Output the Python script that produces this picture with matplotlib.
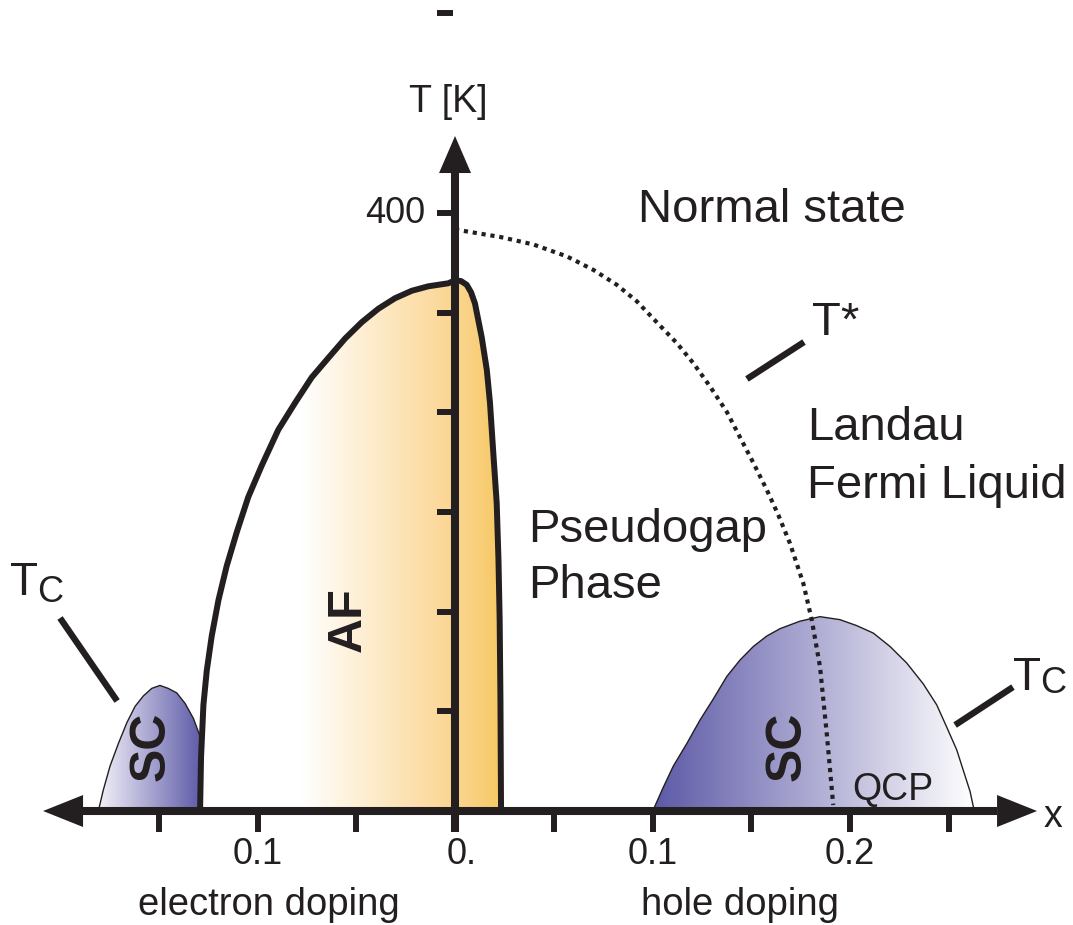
import numpy as np
import matplotlib.pyplot as plt
from matplotlib.patches import Polygon
from matplotlib.colors import LinearSegmentedColormap

# doping x (negative = electron doping) and temperature T [K]

# AF dome: left boundary up to the peak, right boundary down again
af_left_x = [-0.1291, -0.1286, -0.1274, -0.1257, -0.1232, -0.1198, -0.1156, -0.1104,
             -0.1047, -0.0979, -0.0895, -0.0810, -0.0726, -0.0642, -0.0557, -0.0472,
             -0.0388, -0.0304, -0.0219, -0.0135, -0.0034]
af_left_T = [0, 36, 71, 94, 117, 141, 164, 187, 210, 231, 255, 273, 290, 303, 316, 327,
             336, 343, 348, 351, 353]
af_right_x = [0.0, 0.0030, 0.0059, 0.0081, 0.0101, 0.0135, 0.0161, 0.0177, 0.0194,
              0.0211, 0.0220, 0.0226, 0.0230, 0.0233]
af_right_T = [355, 354.5, 352, 347, 339.5, 317, 295, 273, 239, 206, 168, 128, 74, 0]

# superconducting dome, electron doped side
sc_e_x = [-0.1806, -0.1781, -0.1747, -0.1705, -0.1662, -0.1620, -0.1578, -0.1536,
          -0.1494, -0.1452, -0.1409, -0.1367, -0.1325, -0.1291, -0.1280, -0.1291]
sc_e_T = [0, 14, 30, 45, 59, 70, 77, 82, 84, 82, 79, 72, 62, 50, 25, 0]

# superconducting dome, hole doped side
sc_h_x = [0.1001, 0.1055, 0.1105, 0.1173, 0.1241, 0.1308, 0.1376, 0.1443, 0.1510,
          0.1578, 0.1646, 0.1747, 0.1848, 0.1949, 0.2034, 0.2118, 0.2203, 0.2287,
          0.2371, 0.2439, 0.2490, 0.2540, 0.2574, 0.2608, 0.2629]
sc_h_T = [0, 16, 30, 45, 61, 75, 90, 101, 110, 117, 122, 127, 130, 128, 124, 119,
          110, 99, 85, 71, 56, 41, 27, 13, 0]

# pseudogap crossover T*
tstar_x = [0.0, 0.0228, 0.0396, 0.0566, 0.0700, 0.0819, 0.0920, 0.1021, 0.1123,
           0.1207, 0.1291, 0.1376, 0.1443, 0.1510, 0.1578, 0.1637, 0.1696, 0.1764,
           0.1806, 0.1848, 0.1882, 0.1915]
tstar_T = [389, 384, 379, 371, 362, 352, 341, 327, 313, 299.5, 284, 267, 250, 233,
           215, 198, 179, 152, 128, 96.5, 52, 4]

x_ticks = [-0.15, -0.10, -0.05, 0.0, 0.05, 0.10, 0.15, 0.20, 0.25]
x_labels = {-0.10: '0.1', 0.0: '0.', 0.10: '0.1', 0.20: '0.2'}
T_ticks = [67, 133, 200, 267, 333, 400]
T_labels = {400: '400'}

ink = '#231F20'
plt.rcParams['font.family'] = ['Liberation Sans', 'DejaVu Sans']

W, H = 1073, 925
fig = plt.figure(figsize=(W / 100, H / 100), dpi=100)
ax = fig.add_axes([0, 0, 1, 1])
xmin, xmax = -0.2304, 0.3129
Tmin, Tmax = -76.25, 542.5
ax.set_xlim(xmin, xmax)
ax.set_ylim(Tmin, Tmax)
ax.axis('off')
px_x = (xmax - xmin) / W   # one pixel in x units
px_T = (Tmax - Tmin) / H   # one pixel in T units


def gradient_fill(xs, Ts, stops):
    poly = Polygon(np.column_stack([xs, Ts]), closed=True, fc='none', ec='none')
    ax.add_patch(poly)
    cmap = LinearSegmentedColormap.from_list('g', stops)
    img = ax.imshow(np.linspace(0, 1, 512)[None, :], cmap=cmap, aspect='auto',
                    extent=(min(xs), max(xs), min(Ts), max(Ts)), origin='lower',
                    interpolation='bilinear', zorder=1)
    img.set_clip_path(poly)


# fills
gradient_fill(af_left_x + [0.0, 0.0], af_left_T + [355, 0],
              [(0, 'white'), (0.4, 'white'), (1, '#FBD590')])
gradient_fill([0.0] + af_right_x, [0] + af_right_T, ['#FAD692', '#F7C862'])
gradient_fill(sc_e_x, sc_e_T, ['#F3F2F9', '#5E5AA8'])
gradient_fill(sc_h_x, sc_h_T, ['#5D59A7', '#FFFFFF'])

# outlines
ax.plot(sc_e_x, sc_e_T, color=ink, lw=1.0, zorder=3)
ax.plot(sc_h_x, sc_h_T, color=ink, lw=1.0, zorder=3)
ax.plot(af_left_x + af_right_x, af_left_T + af_right_T, color=ink, lw=4.3,
        solid_joinstyle='round', zorder=4)
ax.plot(tstar_x, tstar_T, color=ink, lw=3.0, ls=(0, (1.0, 1.15)), zorder=4)

# axes with arrow heads
lw_ax = 5.8
x_tip_l, x_tip_r, T_tip = -0.2086, 0.2947, 451.5
head_x, head_T, half_w = 40 * px_x, 37 * px_T, 16
ax.plot([x_tip_l + head_x, x_tip_r - head_x], [0, 0], color=ink, lw=lw_ax,
        solid_capstyle='butt', zorder=5)
ax.plot([0, 0], [-14, T_tip - head_T], color=ink, lw=lw_ax, solid_capstyle='butt', zorder=5)
for tri in ([(x_tip_l, 0), (x_tip_l + head_x, half_w * px_T), (x_tip_l + head_x, -half_w * px_T)],
            [(x_tip_r, 0), (x_tip_r - head_x, half_w * px_T), (x_tip_r - head_x, -half_w * px_T)],
            [(0, T_tip), (half_w * px_x, T_tip - head_T), (-half_w * px_x, T_tip - head_T)]):
    ax.add_patch(Polygon(tri, closed=True, fc=ink, ec='none', zorder=5))

ax.vlines(x_ticks, -14, 0, color=ink, lw=4.3, zorder=5)
ax.hlines(T_ticks, -18 * px_x, 0, color=ink, lw=4.3, zorder=5)
ax.plot([-0.0091, -0.0010], [533.8, 533.8], color=ink, lw=4.3, solid_capstyle='butt')

for xv, lab in x_labels.items():
    off = 0.0035 if xv == 0.0 else 0.0
    ax.text(xv + off, -29, lab, fontsize=26, color=ink, ha='center', va='center')
for tv, lab in T_labels.items():
    ax.text(-0.0152, tv, lab, fontsize=26, color=ink, ha='right', va='center')

ax.text(-0.0035, 474, 'T [K]', fontsize=27, color=ink, ha='center', va='center')
ax.text(0.3028, -4, 'x', fontsize=27, color=ink, ha='center', va='center')
ax.text(-0.0942, -63, 'electron doping', fontsize=27.5, color=ink, ha='center', va='center')
ax.text(0.1443, -63, 'hole doping', fontsize=27.5, color=ink, ha='center', va='center')

# region labels
big = 34
ax.text(0.0927, 394, 'Normal state', fontsize=big, color=ink, ha='left', va='baseline')
ax.text(0.0370, 180, 'Pseudogap', fontsize=big, color=ink, ha='left', va='baseline')
ax.text(0.0370, 142.5, 'Phase', fontsize=big, color=ink, ha='left', va='baseline')
ax.text(0.1782, 248, 'Landau', fontsize=big, color=ink, ha='left', va='baseline')
ax.text(0.1782, 209.5, 'Fermi Liquid', fontsize=big, color=ink, ha='left', va='baseline')
ax.text(0.1808, 318.5, 'T*', fontsize=big, color=ink, ha='left', va='baseline')
ax.text(0.2010, 7.5, 'QCP', fontsize=27, color=ink, ha='left', va='baseline')
ax.text(-0.0542, 128, 'AF', fontsize=35, fontweight='bold', color=ink, rotation=90,
        ha='center', va='center')
ax.text(-0.1534, 43.5, 'SC', fontsize=36, fontweight='bold', color=ink, rotation=90,
        ha='center', va='center')
ax.text(0.1686, 43, 'SC', fontsize=36, fontweight='bold', color=ink, rotation=90,
        ha='center', va='center')

# Tc labels
for (tx, tT), (cx, cT) in (((-0.2253, 144.5), (-0.2116, 140)), ((0.2825, 81), (0.2962, 79))):
    ax.text(tx, tT, 'T', fontsize=33, color=ink, ha='left', va='baseline')
    ax.text(cx, cT, 'C', fontsize=26, color=ink, ha='left', va='baseline')

# pointer lines
lw_ptr = 4.6
ax.plot([-0.2000, -0.1711], [129.1, 73.6], color=ink, lw=lw_ptr, solid_capstyle='butt')
ax.plot([0.2532, 0.2825], [57.5, 82.9], color=ink, lw=lw_ptr, solid_capstyle='butt')
ax.plot([0.1478, 0.1767], [289, 313.7], color=ink, lw=lw_ptr, solid_capstyle='butt')

fig.savefig('out.png', dpi=100)
